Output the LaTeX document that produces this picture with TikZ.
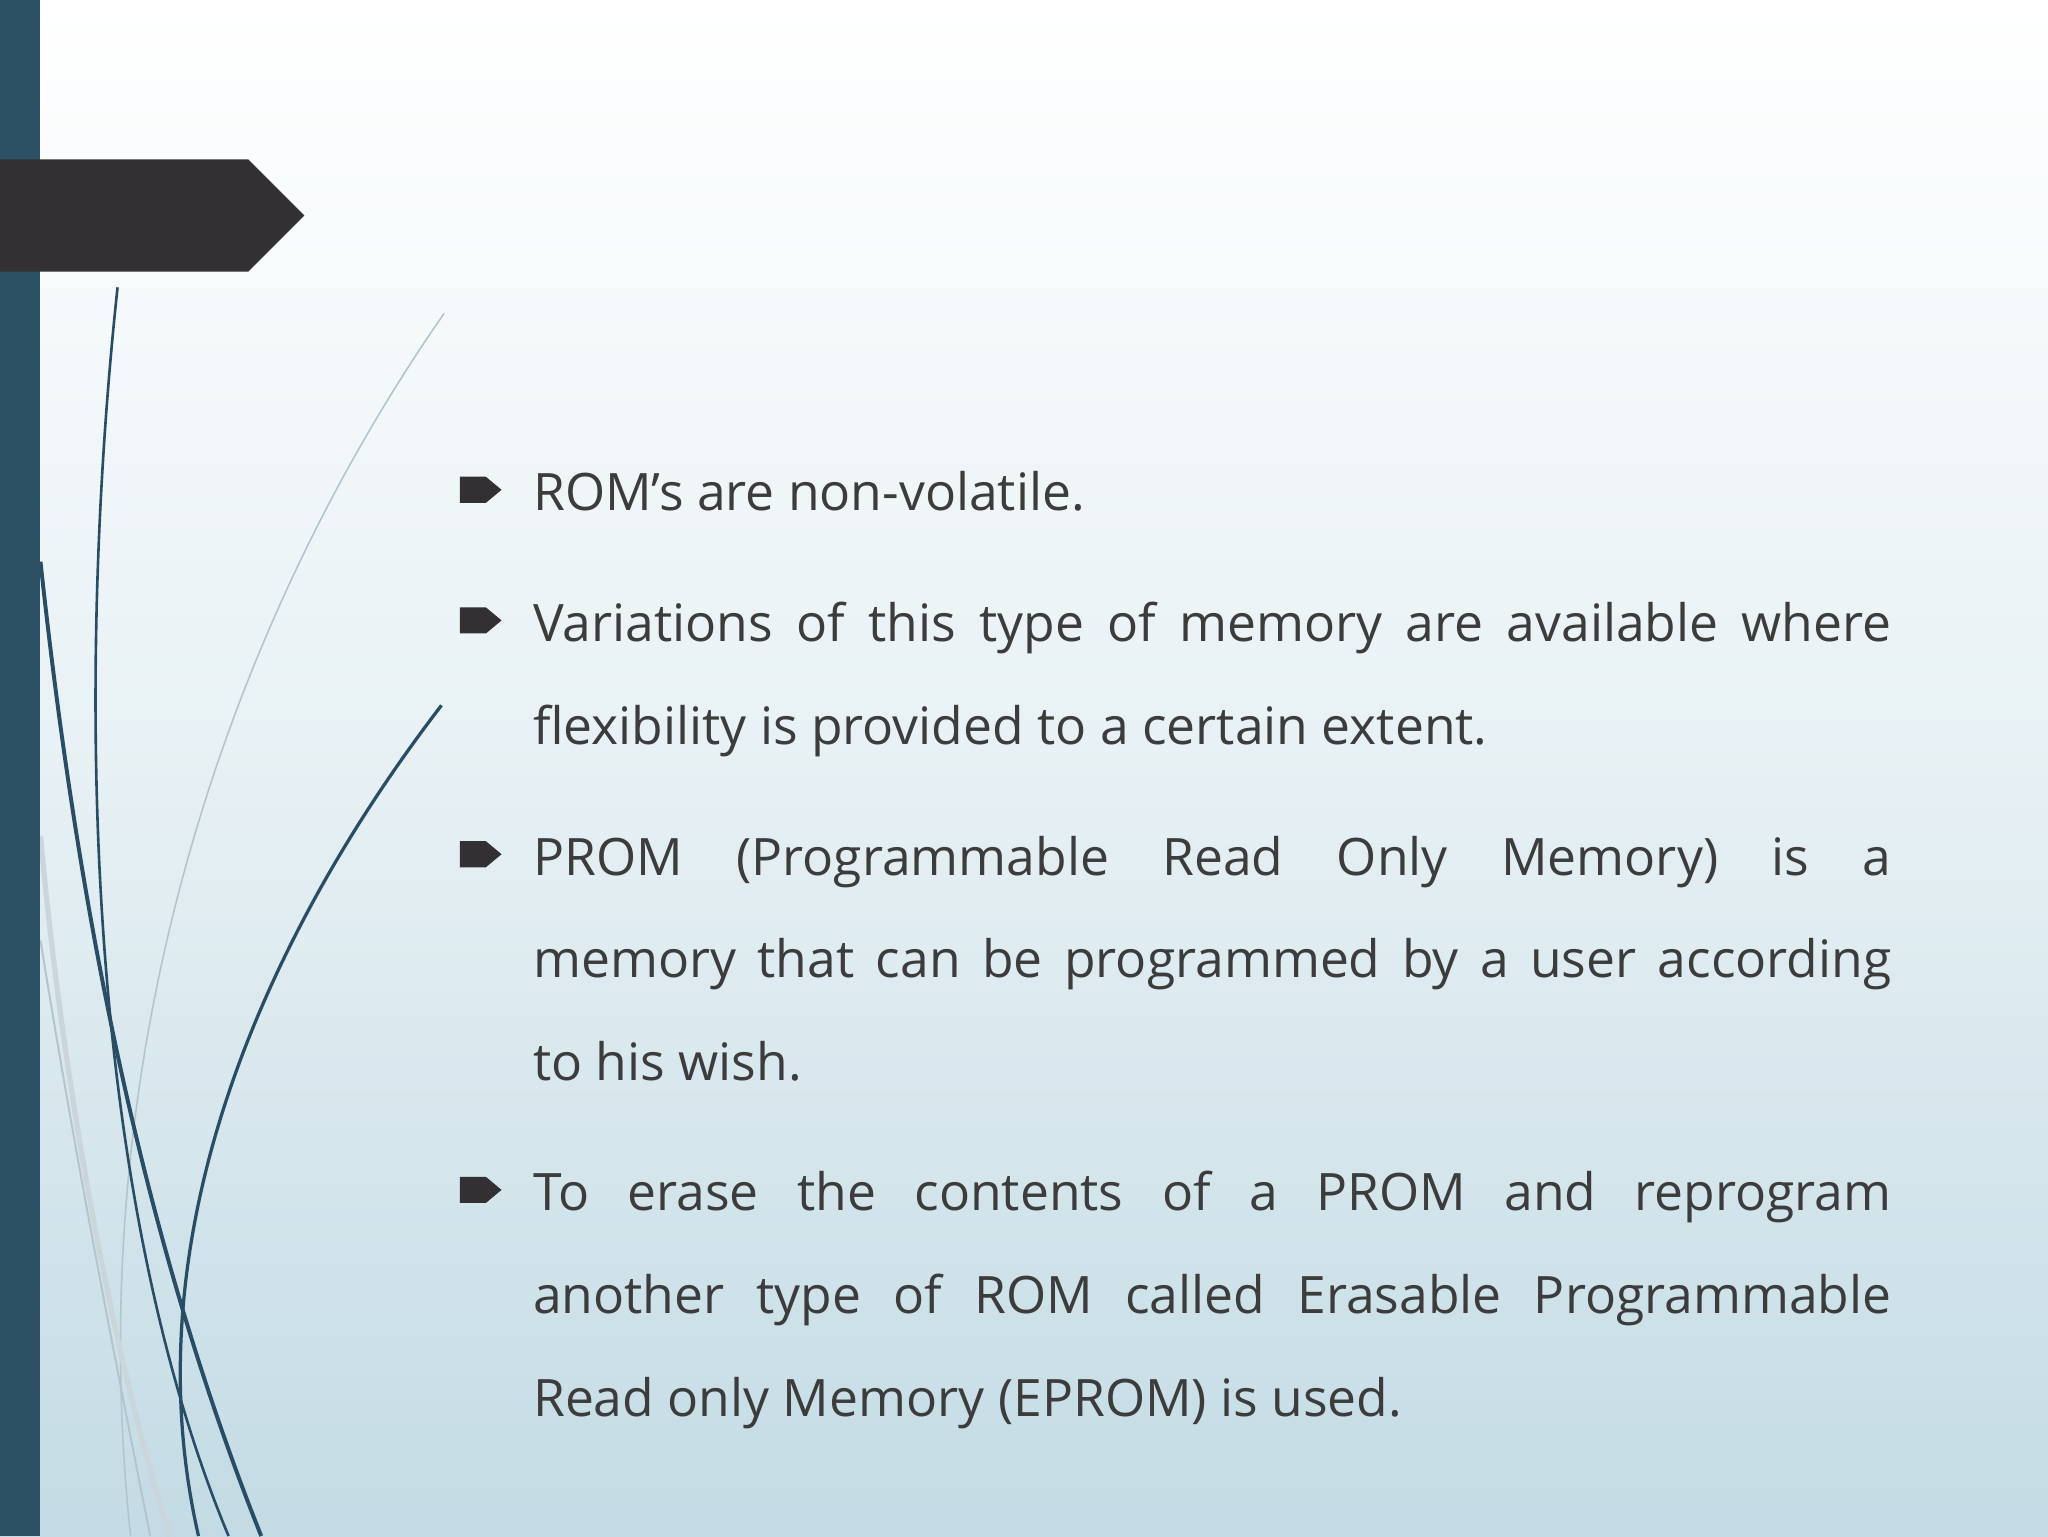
\documentclass[tikz,border=0pt]{standalone}
\usepackage{fontspec}
\setmainfont{Open Sans}
\hyphenpenalty=10000
\exhyphenpenalty=10000
\definecolor{bar}{HTML}{2C5165}
\definecolor{tag}{HTML}{333033}
\definecolor{bottombg}{HTML}{C3DBE4}
\definecolor{txt}{HTML}{3C3C3C}
\definecolor{curve}{HTML}{2A4D66}
\definecolor{lightc}{HTML}{B4C4CC}
\tikzset{para/.style={anchor=north west,inner sep=0pt,text width=1040pt,align=justify,text=txt,font=\fontsize{39.5}{78.5}\selectfont}}
\newcommand{\bul}[1]{\fill[tag] (352,#1-10) -- (372,#1-10) -- (384,#1) -- (372,#1+10) -- (352,#1+10) -- cycle;}
\begin{document}
\begin{tikzpicture}[x=1pt,y=-1pt]
\useasboundingbox (0,0) rectangle (1568,1176);
\shade[top color=white,bottom color=bottombg,middle color=white!60!bottombg] (0,0) rectangle (1568,1176);
% light curves
\draw[lightc,line width=1.2pt] (340,240) .. controls (180,470) and (60,800) .. (100,1176);
\draw[lightc!70!white,line width=4pt] (31,640) .. controls (50,850) and (90,1050) .. (130,1176);
\draw[lightc,line width=1.5pt] (31,720) .. controls (60,900) and (90,1050) .. (115,1176);
% dark curves
\draw[curve,line width=2pt] (90,220) .. controls (60,500) and (60,900) .. (175,1176);
\draw[curve,line width=2.5pt] (338,540) .. controls (200,720) and (100,950) .. (152,1176);
\draw[curve,line width=3pt] (31,430) .. controls (60,700) and (110,950) .. (200,1176);
% left bar and tag
\fill[bar] (0,0) rectangle (31,1176);
\fill[tag] (0,122) -- (190,122) -- (233,165) -- (190,208) -- (0,208) -- cycle;
% bullets
\bul{375} \bul{475} \bul{654} \bul{911}
\node[para] (p1) at (408,336) {\strut ROM{\char"27}s are non-volatile.};
\node[para] (p2) at (408,436) {\strut Variations of this type of memory are available where\linebreak flexibility is provided to a certain extent.};
\node[para] (p3) at (408,615) {\strut PROM (Programmable Read Only Memory) is a\linebreak memory that can be programmed by a user according\linebreak to his wish.};
\node[para] (p4) at (408,872) {\strut To erase the contents of a PROM and reprogram\linebreak another type of ROM called Erasable Programmable\linebreak Read only Memory (EPROM) is used.};
\end{tikzpicture}
\end{document}
